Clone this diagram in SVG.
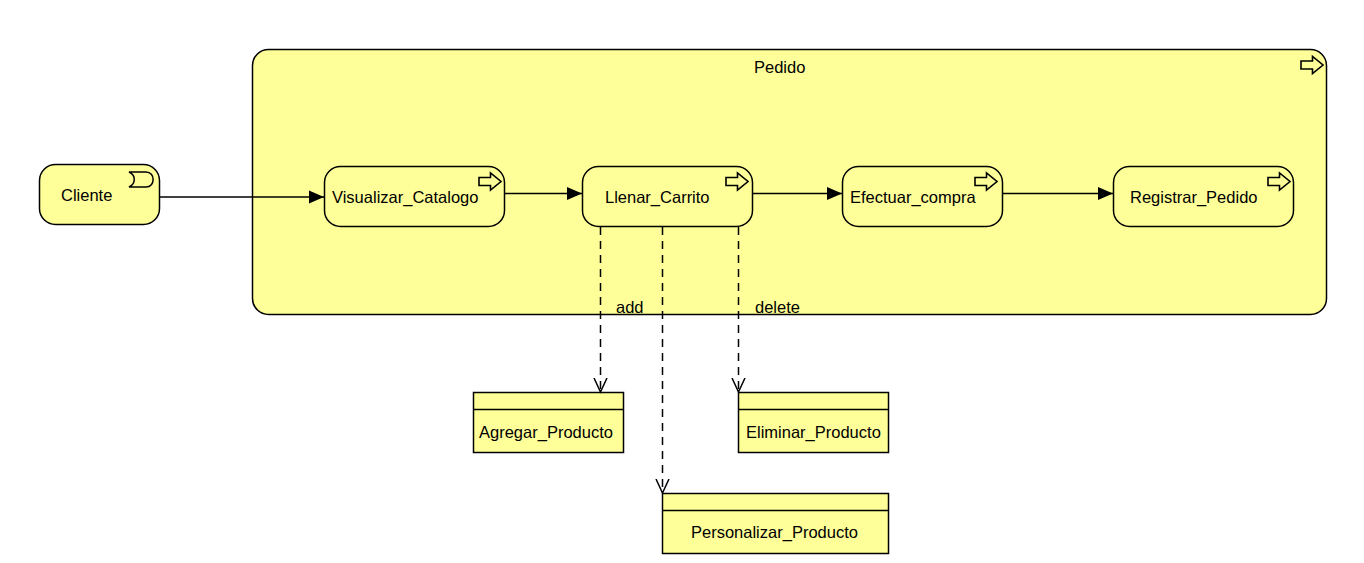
<svg xmlns="http://www.w3.org/2000/svg" width="1364" height="563" viewBox="0 0 1364 563">
<style>
.b{fill:#ffff99;stroke:#000;stroke-width:1.5}
.i{fill:none;stroke:#000;stroke-width:1.5}
.ia{fill:#ffff99;stroke:#000;stroke-width:1.6;stroke-linejoin:miter}
.c{fill:none;stroke:#000;stroke-width:1.5}
.d{fill:none;stroke:#000;stroke-width:1.5;stroke-dasharray:8 6}
text{font-family:"Liberation Sans",Arial,sans-serif;font-size:16.5px;fill:#000}
</style>
<defs>
<marker id="f" markerUnits="userSpaceOnUse" markerWidth="16" markerHeight="14" refX="15" refY="7" orient="auto"><path d="M0 0.500L15 7L0 13.500Z" fill="#000"/></marker>
<marker id="o" markerUnits="userSpaceOnUse" markerWidth="16" markerHeight="16" refX="14.500" refY="8" orient="auto"><path d="M0.500 1.500L14.500 8L0.500 14.500" fill="none" stroke="#000" stroke-width="1.5"/></marker>
<path id="arr" d="M0 4.500H11.500V0L22 8.500L11.500 17V12.500H0Z"/>
</defs>
<g id="Pedido"><rect class="b" x="252.500" y="49.500" width="1074" height="265" rx="16"/><text x="754" y="73">Pedido</text><use href="#arr" class="ia" x="1301" y="56.500"/></g>
<g id="Cliente"><rect class="b" x="39.500" y="164.500" width="120" height="60" rx="16"/><text x="61" y="201">Cliente</text><path class="i" d="M129 172H146C155.500 172 155.500 187 146 187H129C136 184 136 175 129 172Z"/></g>
<g id="Visualizar_Catalogo"><rect class="b" x="324.500" y="166.500" width="180" height="60" rx="16"/><text x="332" y="203">Visualizar_Catalogo</text><use href="#arr" class="ia" x="479" y="173"/></g>
<g id="Llenar_Carrito"><rect class="b" x="582.500" y="166.500" width="170" height="60" rx="16"/><text x="605" y="203">Llenar_Carrito</text><use href="#arr" class="ia" x="726" y="173"/></g>
<g id="Efectuar_compra"><rect class="b" x="842.500" y="166.500" width="160" height="60" rx="16"/><text x="850" y="203">Efectuar_compra</text><use href="#arr" class="ia" x="975" y="173"/></g>
<g id="Registrar_Pedido"><rect class="b" x="1113.500" y="166.500" width="180" height="60" rx="16"/><text x="1130" y="203">Registrar_Pedido</text><use href="#arr" class="ia" x="1268" y="173"/></g>
<g id="Agregar_Producto"><rect class="b" x="473.500" y="392.500" width="150" height="60"/><path class="c" d="M473.500 409.500H623.500"/><text x="479" y="438">Agregar_Producto</text></g>
<g id="Eliminar_Producto"><rect class="b" x="738.500" y="392.500" width="150" height="60"/><path class="c" d="M738.500 409.500H888.500"/><text x="746" y="438">Eliminar_Producto</text></g>
<g id="Personalizar_Producto"><rect class="b" x="662.500" y="493.500" width="226" height="60"/><path class="c" d="M662.500 510.500H888.500"/><text x="691" y="538">Personalizar_Producto</text></g>
<g id="connectors">
<path class="c" marker-end="url(#f)" d="M160 197H324"/>
<path class="c" marker-end="url(#f)" d="M505 193.500H582"/>
<path class="c" marker-end="url(#f)" d="M753 193.500H842"/>
<path class="c" marker-end="url(#f)" d="M1003 193.500H1113"/>
<path class="d" marker-end="url(#o)" d="M600.500 227V392"/>
<path class="d" marker-end="url(#o)" d="M662.500 227V493"/>
<path class="d" marker-end="url(#o)" d="M738.500 227V392"/>
<text x="616" y="313">add</text>
<text x="755" y="313">delete</text>
</g>
</svg>
